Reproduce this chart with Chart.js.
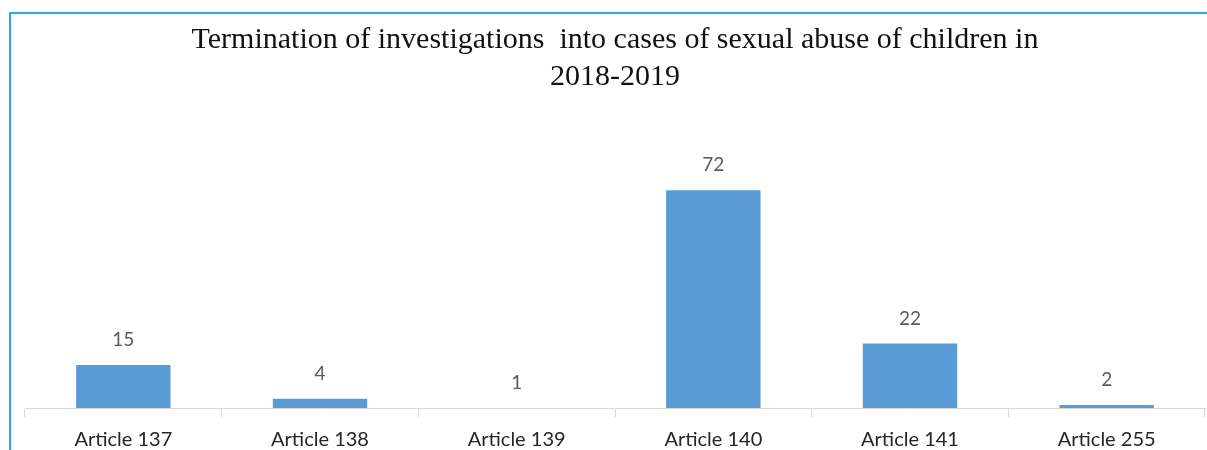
<!DOCTYPE html>
<html>
<head>
<meta charset="utf-8">
<script src="https://cdn.jsdelivr.net/npm/chart.js@4"></script>
<style>
  html, body { margin: 0; padding: 0; background: #fff; overflow: hidden; }
  #wrap { position: relative; width: 1207px; height: 450px; }
  #frame {
    position: absolute; left: 9px; top: 12px; width: 1300px; height: 500px;
    border: 2px solid #29ABE2; pointer-events: none;
  }
</style>
</head>
<body>
<div id="wrap">
  <canvas id="myChart" width="1207" height="450"></canvas>
  <div id="frame"></div>
</div>
<script>
// Terminated investigations by article, 2018-2019
const articles = ['Article 137', 'Article 138', 'Article 139', 'Article 140', 'Article 141', 'Article 255'];
const terminated = [15, 4, 1, 72, 22, 2];
const titleLines = ['Termination of investigations  into cases of sexual abuse of children in', '2018-2019'];

// write the value above each bar
const valueLabels = {
  id: 'valueLabels',
  afterDatasetsDraw(chart) {
    const ctx = chart.ctx;
    const meta = chart.getDatasetMeta(0);
    ctx.save();
    ctx.font = '19px Lato, "Open Sans", sans-serif';
    ctx.fillStyle = '#595959';
    ctx.textAlign = 'center';
    ctx.textBaseline = 'middle';
    meta.data.forEach((bar, i) => {
      ctx.fillText(String(terminated[i]), bar.x, bar.y - 25);
    });
    ctx.restore();
  }
};

const config = {
  type: 'bar',
  data: {
    labels: articles,
    datasets: [{
      data: terminated,
      backgroundColor: '#5B9BD5',
      borderWidth: 0,
      categoryPercentage: 1,
      barPercentage: 0.48
    }]
  },
  options: {
    responsive: false,
    animation: false,
    layout: { padding: { left: 25, right: 2, top: 4, bottom: -13 } },
    plugins: {
      legend: { display: false },
      tooltip: { enabled: false },
      title: {
        display: true,
        text: titleLines,
        color: '#111',
        font: { family: '"Liberation Serif", serif', size: 30, weight: 'normal', lineHeight: 1.23 },
        padding: { top: 18, bottom: 70 }
      }
    },
    scales: {
      x: {
        grid: { display: true, offset: true, drawOnChartArea: false, color: '#D9D9D9', tickLength: 9 },
        border: { display: true, color: '#D9D9D9' },
        ticks: { color: '#262626', font: { family: 'Lato, "Open Sans", sans-serif', size: 20 }, padding: 11 }
      },
      y: {
        display: false,
        min: 1,
        max: 80
      }
    }
  },
  plugins: [valueLabels]
};

const myChart = new Chart(document.getElementById('myChart'), config);
</script>
</body>
</html>
